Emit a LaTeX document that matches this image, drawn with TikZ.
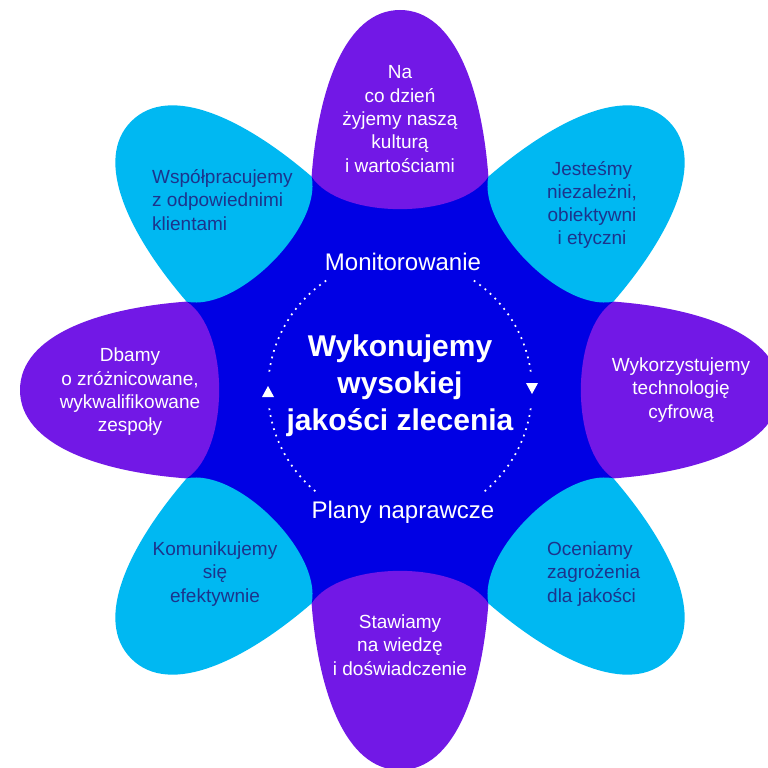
\documentclass[tikz,border=0pt]{standalone}
\usepackage{fontspec}
\setmainfont{Liberation Sans}
\definecolor{petalpurple}{RGB}{114,24,230}
\definecolor{petalcyan}{RGB}{0,184,242}
\definecolor{coreblue}{RGB}{0,0,228}
\definecolor{navytext}{RGB}{28,52,140}
\tikzset{
  ptext/.style={text=white, align=center, inner sep=0pt, font=\fontsize{19}{23.3}\selectfont},
  ctext/.style={text=navytext, align=center, inner sep=0pt, font=\fontsize{19}{23.3}\selectfont},
  ltext/.style={text=navytext, align=left, inner sep=0pt, anchor=west, font=\fontsize{19}{23.3}\selectfont},
  cycletext/.style={text=white, inner sep=0pt, font=\fontsize{24}{28}\selectfont},
  titletext/.style={text=white, align=center, inner sep=0pt, font=\fontsize{30}{37}\selectfont\bfseries},
  dotarc/.style={white, line width=1.7pt, dash pattern=on 1.8pt off 5pt},
  tri/.style={fill=white}
}
\begin{document}
\begin{tikzpicture}[x=1pt,y=-1pt]
\useasboundingbox (0,0) rectangle (768,768);
\clip (0,0) rectangle (768,768);
\coordinate (c) at (400,390);
% core
\fill[coreblue, shift={(400,390)}] (22.5:231) -- (67.5:231) -- (112.5:231) -- (157.5:231) -- (202.5:231) -- (247.5:231) -- (292.5:231) -- (337.5:231) -- cycle;
% petals
\foreach \a in {0,90,180,270} {
  \fill[petalpurple, shift={(400,390)}, rotate=\a]
    (-88.4,-213.4) .. controls (-82,-300) and (-55,-380) .. (0,-380)
    .. controls (55,-380) and (82,-300) .. (88.4,-213.4)
    .. controls (60,-170) and (-60,-170) .. (-88.4,-213.4) -- cycle;
}
\foreach \a in {45,135,225,315} {
  \fill[petalcyan, shift={(400,390)}, rotate=\a]
    (-88.4,-213.4) .. controls (-82,-300) and (-55,-380) .. (0,-380)
    .. controls (55,-380) and (82,-300) .. (88.4,-213.4)
    .. controls (60,-170) and (-60,-170) .. (-88.4,-213.4) -- cycle;
}
% petal texts
\node[ptext] (p1) at (400,119) {Na\\co dzień\\żyjemy naszą\\kulturą\\i wartościami};
\node[ctext] (p2) at (592,205) {Jesteśmy\\niezależni,\\obiektywni\\i etyczni};
\node[ptext] (p3) at (681,390) {Wykorzystujemy\\technologię\\cyfrową};
\node[ltext] (p4) at (547,574) {Oceniamy\\zagrożenia\\dla jakości};
\node[ptext] (p5) at (400,645) {Stawiamy\\na wiedzę\\i doświadczenie};
\node[ctext] (p6) at (215,574) {Komunikujemy\\się\\efektywnie};
\node[ptext] (p7) at (130,392) {Dbamy\\o zróżnicowane,\\wykwalifikowane\\zespoły};
\node[ltext] (p8) at (152,200) {Współpracujemy\\z odpowiednimi\\klientami};
% centre
\node[titletext] (title) at (400,386) {Wykonujemy\\wysokiej\\jakości zlecenia};
\node[cycletext] (mon) at (403,262) {Monitorowanie};
\node[cycletext] (plan) at (403,512) {Plany naprawcze};
% dotted cycle
\draw[dotarc] ([shift={(-124:132)}]c) arc[start angle=-124, end angle=-172, radius=132];
\draw[dotarc] ([shift={(-188:132)}]c) arc[start angle=-188, end angle=-232, radius=132];
\draw[dotarc] ([shift={(-56:132)}]c) arc[start angle=-56, end angle=-8, radius=132];
\draw[dotarc] ([shift={(8:132)}]c) arc[start angle=8, end angle=52, radius=132];
\fill[tri] (268,386) -- (262,397) -- (274,397) -- cycle;
\fill[tri] (526,383) -- (538,383) -- (532,394) -- cycle;
\end{tikzpicture}
\end{document}
